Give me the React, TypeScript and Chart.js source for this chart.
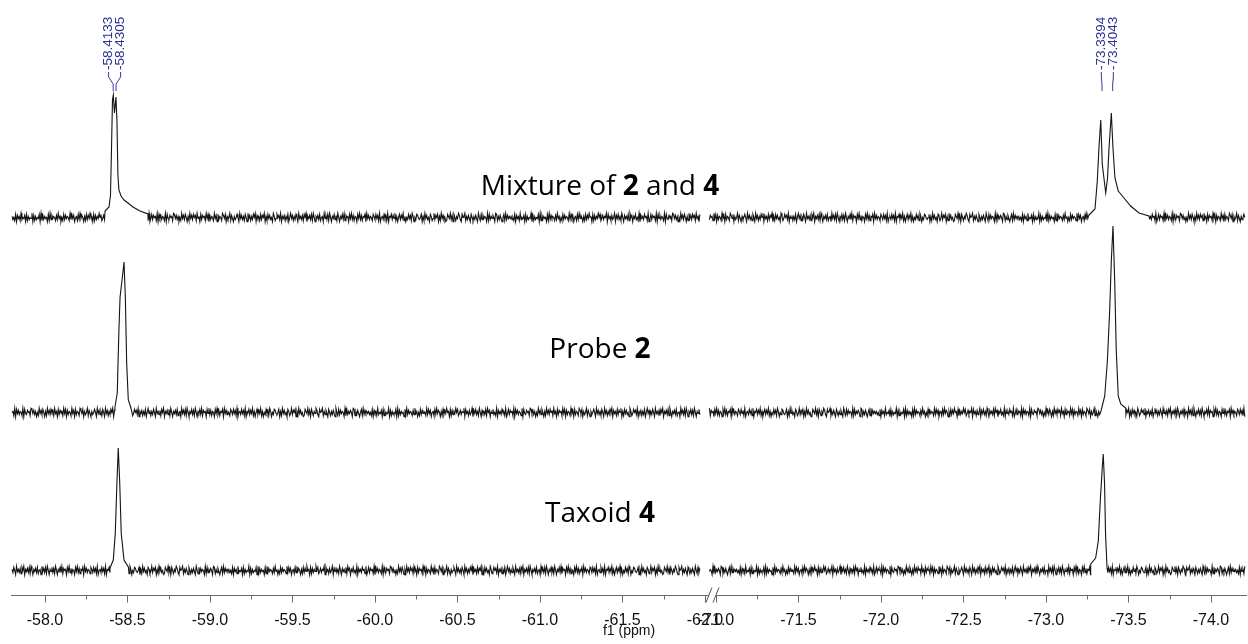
import React, { useEffect, useRef } from "react";
import { Chart, registerables } from "chart.js";
Chart.register(...registerables);

// ---------- axis (broken x axis, ppm) ----------
const LEFT_SEGMENT = [-57.8, -61.97];
const RIGHT_SEGMENT = [-70.96, -74.21];
const BREAK_SHIFT = 8.9333; // ppm units removed between -62.0 and -71.0 (keeps a small gap)
const AXIS_MIN_U = 57.794;
const AXIS_MAX_U = 65.285;
const MAJOR_TICKS = [-58.0, -58.5, -59.0, -59.5, -60.0, -60.5, -61.0, -61.5, -62.0, -71.0, -71.5, -72.0, -72.5, -73.0, -73.5, -74.0];
const MINOR_TICKS = [-58.25, -58.75, -59.25, -59.75, -60.25, -60.75, -61.25, -61.75, -71.25, -71.75, -72.25, -72.75, -73.25, -73.75];
const AXIS_TITLE = "f1 (ppm)";

// ---------- spectra ----------
const SPECTRUM_NAMES = ["Mixture of 2 and 4", "Probe 2", "Taxoid 4"];
const SPECTRUM_LABEL_PARTS: [string, boolean][][] = [
  [["Mixture of ", false], ["2", true], [" and ", false], ["4", true]],
  [["Probe ", false], ["2", true]],
  [["Taxoid ", false], ["4", true]],
];
const BASELINES = [377, 182, 24];
const NOISE_OFFSETS = [0, 157, 311];

// Mixture of 2 and 4
const MIX_LEFT_PPM = [-58.364, -58.388, -58.397, -58.403, -58.409, -58.414, -58.421, -58.43, -58.436, -58.442, -58.448, -58.461, -58.479, -58.503, -58.533, -58.576, -58.624];
const MIX_LEFT_INT = [7, 11, 23, 68, 118, 123, 105, 121, 98, 43, 28, 22, 18, 15, 11, 7, 4];
const MIX_RIGHT_PPM = [-73.261, -73.297, -73.311, -73.321, -73.332, -73.341, -73.362, -73.373, -73.382, -73.396, -73.406, -73.418, -73.438, -73.473, -73.513, -73.564, -73.624];
const MIX_RIGHT_INT = [3, 9, 37, 70, 98, 54, 25, 40, 70, 105, 70, 40, 27, 20, 12, 5, 2];
// Probe 2
const PROBE_LEFT_PPM = [-58.424, -58.438, -58.448, -58.455, -58.467, -58.479, -58.487, -58.495, -58.505, -58.519];
const PROBE_LEFT_INT = [6, 20, 83, 116, 133, 151, 116, 50, 13, 6];
const PROBE_RIGHT_PPM = [-73.341, -73.356, -73.372, -73.386, -73.396, -73.406, -73.416, -73.426, -73.438, -73.453, -73.483];
const PROBE_RIGHT_INT = [7, 17, 52, 102, 152, 187, 135, 62, 17, 9, 5];
// Taxoid 4
const TAXOID_LEFT_PPM = [-58.394, -58.414, -58.426, -58.436, -58.444, -58.453, -58.462, -58.479, -58.505];
const TAXOID_LEFT_INT = [3, 11, 38, 88, 123, 88, 38, 11, 4];
const TAXOID_RIGHT_PPM = [-73.271, -73.301, -73.317, -73.329, -73.341, -73.347, -73.355, -73.361, -73.37];
const TAXOID_RIGHT_INT = [7, 13, 30, 70, 103, 117, 87, 37, 3];

// peak-picking labels (top spectrum)
const PEAK_LABELS = ["-58.4133", "-58.4305", "-73.3394", "-73.4043"];

// baseline noise, estimated by hand (digit 0..9 around 4.5)
const NOISE_STEP_PPM = 0.0055;
const NOISE =
  "46352817462935471826354917263548192736451829374652" +
  "73946152837465293847156283947516283749561827364958" +
  "24736591846273591748362951746382957164835291746385" +
  "62914837562918473652918437562984736152947385162947" +
  "38572946183756294817365294718365297481635927416358" +
  "51947362851947263859174628375916284735196248573916" +
  "47263815947263851946372859164738295164738256194738" +
  "29516483729516483927561849372651849372658194736528" +
  "63847291563847291658374926158374926153847296153874" +
  "35816294735186249375816294735128649371852649731856" +
  "92637418526374195283746519283647519826374158293746";
const NOISE_SCALE = 1.05;

const toU = (ppm: number) => (ppm >= -66 ? -ppm : -ppm - BREAK_SHIFT);

type Pt = { x: number; y: number | null };

function buildSpectrum(
  k: number,
  peaks: { ppm: number[]; int: number[] }[]
): Pt[] {
  const base = BASELINES[k];
  const pts: Pt[] = [];
  let n = NOISE_OFFSETS[k];
  const segs = [LEFT_SEGMENT, RIGHT_SEGMENT];
  segs.forEach((seg, si) => {
    const segPts: Pt[] = [];
    for (let p = seg[0]; p >= seg[1]; p -= NOISE_STEP_PPM) {
      n++;
      const inPeak = peaks.some(
        (pk) => p <= pk.ppm[0] && p >= pk.ppm[pk.ppm.length - 1]
      );
      if (inPeak) continue;
      const d = NOISE.charCodeAt(n % NOISE.length) - 48;
      segPts.push({ x: toU(p), y: base + (d - 4.5) * NOISE_SCALE });
    }
    peaks.forEach((pk) => {
      if (pk.ppm[0] <= seg[0] && pk.ppm[0] >= seg[1]) {
        pk.ppm.forEach((p, i) => segPts.push({ x: toU(p), y: base + pk.int[i] }));
      }
    });
    segPts.sort((a, b) => a.x - b.x);
    pts.push(...segPts);
    if (si === 0) pts.push({ x: (toU(LEFT_SEGMENT[1]) + toU(RIGHT_SEGMENT[0])) / 2, y: null });
  });
  return pts;
}

const decorPlugin = {
  id: "nmrDecor",
  afterDraw(chart: any) {
    const { ctx, chartArea, scales } = chart;
    const xs = scales.x;
    const axisY = chartArea.bottom + 0.5;
    ctx.save();
    // axis line
    ctx.strokeStyle = "#6a6a6a";
    ctx.lineWidth = 1;
    ctx.beginPath();
    ctx.moveTo(chartArea.left, axisY);
    ctx.lineTo(chartArea.right, axisY);
    ctx.stroke();
    // ticks
    MAJOR_TICKS.forEach((t) => {
      const x = Math.round(xs.getPixelForValue(toU(t))) + 0.5;
      ctx.beginPath();
      ctx.moveTo(x, axisY);
      ctx.lineTo(x, axisY + 7);
      ctx.stroke();
    });
    MINOR_TICKS.forEach((t) => {
      const x = Math.round(xs.getPixelForValue(toU(t))) + 0.5;
      ctx.beginPath();
      ctx.moveTo(x, axisY);
      ctx.lineTo(x, axisY + 4);
      ctx.stroke();
    });
    // break marks
    const b1 = xs.getPixelForValue(toU(-62.0)) + 4;
    const b2 = xs.getPixelForValue(toU(-71.0));
    ctx.fillStyle = "#fff";
    ctx.fillRect(b1, axisY - 1, b2 - b1, 2);
    ctx.strokeStyle = "#555";
    [b1, b2].forEach((bx) => {
      ctx.beginPath();
      ctx.moveTo(bx - 3, axisY + 7);
      ctx.lineTo(bx + 3, axisY - 8);
      ctx.stroke();
    });
    // tick labels
    ctx.fillStyle = "#111";
    ctx.font = '16px "Liberation Sans"';
    ctx.textAlign = "center";
    ctx.textBaseline = "alphabetic";
    MAJOR_TICKS.forEach((t) => {
      const x = xs.getPixelForValue(toU(t));
      ctx.fillText(t.toFixed(1), x, axisY + 29);
    });
    ctx.font = '14px "Liberation Sans"';
    ctx.fillText(AXIS_TITLE, (chartArea.left + chartArea.right) / 2, axisY + 39);

    // spectrum labels
    const labelY = [195, 358, 522];
    SPECTRUM_LABEL_PARTS.forEach((parts, k) => {
      const fonts = parts.map(([, b]) => (b ? 'bold 28px "Open Sans"' : '28px "Open Sans"'));
      let total = 0;
      const widths = parts.map(([s], i) => {
        ctx.font = fonts[i];
        const w = ctx.measureText(s).width;
        total += w;
        return w;
      });
      let x = 600 - total / 2;
      ctx.textAlign = "left";
      ctx.fillStyle = "#000";
      parts.forEach(([s], i) => {
        ctx.font = fonts[i];
        ctx.fillText(s, x, labelY[k]);
        x += widths[i];
      });
    });

    // peak labels
    const peakPx = PEAK_LABELS.map((l) => xs.getPixelForValue(toU(parseFloat(l))));
    const labelPx = peakPx.slice();
    for (let i = 0; i < labelPx.length - 1; i += 2) {
      const c = (peakPx[i] + peakPx[i + 1]) / 2;
      const gap = Math.max(12, peakPx[i + 1] - peakPx[i]);
      labelPx[i] = c - gap / 2;
      labelPx[i + 1] = c + gap / 2;
    }
    ctx.strokeStyle = "#3a3a9c";
    ctx.fillStyle = "#2e2e94";
    ctx.font = '13.5px "Liberation Sans"';
    PEAK_LABELS.forEach((l, i) => {
      const lx = labelPx[i];
      const px = peakPx[i];
      ctx.save();
      ctx.translate(lx, 70);
      ctx.rotate(-Math.PI / 2);
      ctx.textAlign = "left";
      ctx.textBaseline = "middle";
      ctx.fillText(l, 0, 0);
      ctx.restore();
      ctx.beginPath();
      ctx.moveTo(lx, 72);
      ctx.lineTo(lx, 77);
      ctx.lineTo(px, 84);
      ctx.lineTo(px, 91);
      ctx.stroke();
    });
    ctx.restore();
  },
};

export default function App() {
  const ref = useRef<HTMLCanvasElement | null>(null);
  useEffect(() => {
    if (!ref.current) return;
    const datasets = [
      buildSpectrum(0, [
        { ppm: MIX_LEFT_PPM, int: MIX_LEFT_INT },
        { ppm: MIX_RIGHT_PPM, int: MIX_RIGHT_INT },
      ]),
      buildSpectrum(1, [
        { ppm: PROBE_LEFT_PPM, int: PROBE_LEFT_INT },
        { ppm: PROBE_RIGHT_PPM, int: PROBE_RIGHT_INT },
      ]),
      buildSpectrum(2, [
        { ppm: TAXOID_LEFT_PPM, int: TAXOID_LEFT_INT },
        { ppm: TAXOID_RIGHT_PPM, int: TAXOID_RIGHT_INT },
      ]),
    ].map((data, k) => ({
      label: SPECTRUM_NAMES[k],
      data,
      borderColor: "#141414",
      borderWidth: 1.1,
      pointRadius: 0,
      tension: 0,
      spanGaps: false,
    }));
    const chart = new Chart(ref.current, {
      type: "line",
      data: { datasets },
      options: {
        animation: false,
        responsive: false,
        parsing: true,
        layout: { padding: { left: 11, right: 1, top: 0, bottom: 49 } },
        plugins: { legend: { display: false }, tooltip: { enabled: false } },
        scales: {
          x: { type: "linear", min: AXIS_MIN_U, max: AXIS_MAX_U, display: false },
          y: { type: "linear", min: 0, max: 595, display: false },
        },
      },
      plugins: [decorPlugin],
    });
    return () => chart.destroy();
  }, []);
  return (
    <div style={{ position: "fixed", left: 0, top: 0, width: 1248, height: 644, background: "#fff" }}>
      <canvas ref={ref} width={1248} height={644} />
    </div>
  );
}
